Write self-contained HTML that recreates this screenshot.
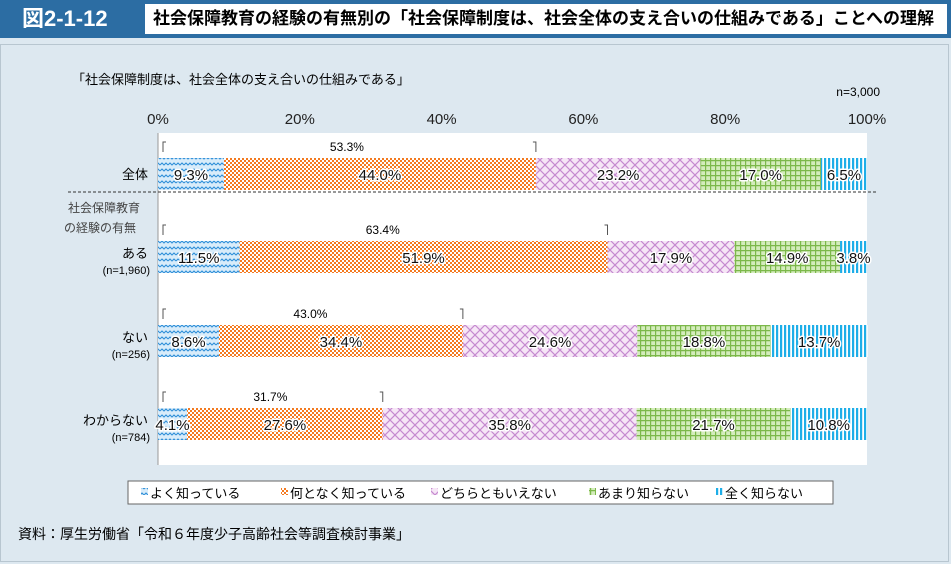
<!DOCTYPE html>
<html><head><meta charset="utf-8"><style>
body{margin:0;width:951px;height:564px;background:#dde8f0;font-family:"Liberation Sans","Noto Sans CJK JP",sans-serif;overflow:hidden;position:relative}
.abs{position:absolute}
.v{paint-order:stroke;stroke:#fff;stroke-width:3px;stroke-linejoin:round}
</style></head><body>
<div class="abs" style="left:0;top:0;width:951px;height:38px;background:#2c6da3"></div>
<div class="abs" style="left:22px;top:5px;color:#fff;font-size:22px;font-weight:bold;line-height:28px">図2-1-12</div>
<div class="abs" style="left:145px;top:4px;width:802px;height:30px;background:#fff;font-size:17px;font-weight:bold;line-height:30px;padding-left:8px;box-sizing:border-box;white-space:nowrap">社会保障教育の経験の有無別の「社会保障制度は、社会全体の支え合いの仕組みである」ことへの理解</div>
<div class="abs" style="left:0;top:44px;width:949px;height:518px;border:1px solid #b8c6d0;box-sizing:border-box"></div>
<svg class="abs" style="left:0;top:0" width="951" height="564" font-family="Liberation Sans, Noto Sans CJK JP, sans-serif">
<defs>
<pattern id="p0" width="8" height="6" patternUnits="userSpaceOnUse"><rect width="8" height="6" fill="#d8ecfa"/><path d="M0 3 L2 1 L4 3 L6 1 L8 3" stroke="#2f8fd8" stroke-width="1.1" fill="none"/></pattern>
<pattern id="p1" width="4" height="4" patternUnits="userSpaceOnUse"><rect width="4" height="4" fill="#fff"/><rect width="2" height="2" fill="#f47a20"/><rect x="2" y="2" width="2" height="2" fill="#f47a20"/></pattern>
<pattern id="p2" width="10" height="10" patternUnits="userSpaceOnUse"><rect width="10" height="10" fill="#f6e6f6"/><path d="M0 0 L10 10 M10 0 L0 10" stroke="#c58ad0" stroke-width="1.2"/></pattern>
<pattern id="p3" width="5" height="5" patternUnits="userSpaceOnUse"><rect width="5" height="5" fill="#d4ecbc"/><path d="M0 0.5 H5 M0.5 0 V5" stroke="#7cb84a" stroke-width="1.4"/></pattern>
<pattern id="p4" width="4" height="4" patternUnits="userSpaceOnUse"><rect width="4" height="4" fill="#fff"/><rect width="2.2" height="4" fill="#1eaee8"/></pattern>
</defs>
<text x="72" y="84" font-size="13">「社会保障制度は、社会全体の支え合いの仕組みである」</text>
<text x="880" y="96" font-size="12" text-anchor="end">n=3,000</text>
<rect x="158" y="133" width="709" height="332" fill="#fff"/>
<line x1="158" y1="133" x2="158" y2="465" stroke="#999"/>
<line x1="68" y1="192" x2="878" y2="192" stroke="#333" stroke-dasharray="3,2"/>
<text x="68" y="212" font-size="12" fill="#444">社会保障教育</text>
<text x="64" y="232" font-size="12" fill="#444">の経験の有無</text>
<g id="ticks"></g><g id="bars"></g>
<rect x="128" y="481" width="705" height="23" fill="#fff" stroke="#666"/>
<g id="legend"></g>
<text x="18" y="539" font-size="14">資料：厚生労働省「令和６年度少子高齢社会等調査検討事業」</text>
</svg>
<script>
const categories=["全体","ある","ない","わからない"];
const subLabels=["","(n=1,960)","(n=256)","(n=784)"];
const series=["よく知っている","何となく知っている","どちらともいえない","あまり知らない","全く知らない"];
const s1=[9.3,11.5,8.6,4.1];
const s2=[44.0,51.9,34.4,27.6];
const s3=[23.2,17.9,24.6,35.8];
const s4=[17.0,14.9,18.8,21.7];
const s5=[6.5,3.8,13.7,10.8];
const knowTotal=[53.3,63.4,43.0,31.7];
const ticks=[0,20,40,60,80,100];
const vals=[s1,s2,s3,s4,s5];
const NS="http://www.w3.org/2000/svg";
const X0=158,W=709;const x=v=>X0+v/100*W;
const barY=[158,241,325,408],BH=32;
function mk(t,a,p){const e=document.createElementNS(NS,t);for(const k in a)e.setAttribute(k,a[k]);p.appendChild(e);return e;}
const tg=document.getElementById('ticks');
ticks.forEach(t=>{const e=mk('text',{x:x(t),y:124,'font-size':15,'text-anchor':'middle',fill:'#222'},tg);e.textContent=t+'%';

});
const bg=document.getElementById('bars');
categories.forEach((c,i)=>{const y=barY[i];
const cl=mk('text',{x:148,y:y+BH/2+(subLabels[i]?1:5),'font-size':13,'text-anchor':'end'},bg);cl.textContent=c;


if(subLabels[i]){const sl=mk('text',{x:150,y:y+BH/2+17,'font-size':11,'text-anchor':'end'},bg);sl.textContent=subLabels[i];

}
let acc=0;
vals.forEach((s,j)=>{const v=s[i];const r=mk('rect',{x:x(acc),y:y,width:x(acc+v)-x(acc),height:BH,fill:'url(#p'+j+')'},bg);


acc+=v;});
acc=0;
vals.forEach((s,j)=>{const v=s[i];
const t=mk('text',{x:(x(acc)+x(acc+v))/2,y:y+BH/2+6,'font-size':15,'text-anchor':'middle',fill:'#111',class:'v'},bg);t.textContent=v.toFixed(1)+'%';


acc+=v;});
const bx=x(knowTotal[i]);const by=y-11;
const br=mk('path',{d:`M${X0+5} ${by+5} V${by-5} H${X0+8} M${bx-3} ${by-5} H${bx} V${by+5}`,stroke:'#555',fill:'none'},bg);


const bt=mk('text',{x:(X0+bx)/2,y:by+4,'font-size':12,'text-anchor':'middle'},bg);bt.textContent=knowTotal[i].toFixed(1)+'%';


});
const lg=document.getElementById('legend');const lx=[150,290,440,598,725];
series.forEach((s,j)=>{const r=mk('rect',{x:lx[j]-9,y:488,width:7,height:7,fill:'url(#p'+j+')'},lg);


const t=mk('text',{x:lx[j],y:498,'font-size':13},lg);t.textContent=s;

});
</script>
</body></html>
